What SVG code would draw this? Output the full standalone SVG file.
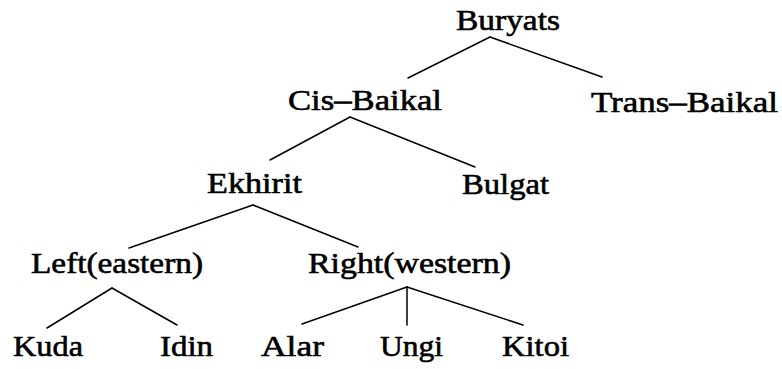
<svg xmlns="http://www.w3.org/2000/svg" width="782" height="369" viewBox="0 0 782 369">
<style>
text { font-family: "Liberation Serif", "Times New Roman", serif; font-size: 30px; fill: #000; stroke: #000; stroke-width: 0.6; }
.edge { stroke: #000; stroke-width: 1.5; fill: none; stroke-linecap: round; }
</style>
<rect width="782" height="369" fill="#fff"/>
<g id="connectors">
<line class="edge" x1="490" y1="37" x2="408" y2="78"/>
<line class="edge" x1="490" y1="37" x2="602" y2="77"/>
<line class="edge" x1="350" y1="117" x2="270" y2="160"/>
<line class="edge" x1="350" y1="117" x2="475" y2="167"/>
<line class="edge" x1="253" y1="205" x2="129" y2="248"/>
<line class="edge" x1="253" y1="205" x2="358" y2="247"/>
<line class="edge" x1="112" y1="288" x2="47" y2="328"/>
<line class="edge" x1="112" y1="288" x2="177" y2="325"/>
<line class="edge" x1="407" y1="287" x2="302" y2="324"/>
<line class="edge" x1="407" y1="287" x2="407" y2="325"/>
<line class="edge" x1="407" y1="287" x2="523" y2="325"/>
</g>
<g id="buryats"><text x="456" y="30" textLength="104" lengthAdjust="spacingAndGlyphs">Buryats</text></g>
<g id="cis-baikal"><text x="288" y="110" textLength="154" lengthAdjust="spacingAndGlyphs">Cis–Baikal</text></g>
<g id="trans-baikal"><text x="591" y="112" textLength="187" lengthAdjust="spacingAndGlyphs">Trans–Baikal</text></g>
<g id="ekhirit"><text x="207" y="193" textLength="95" lengthAdjust="spacingAndGlyphs">Ekhirit</text></g>
<g id="bulgat"><text x="462" y="194" textLength="87" lengthAdjust="spacingAndGlyphs">Bulgat</text></g>
<g id="left"><text x="31" y="273" textLength="172" lengthAdjust="spacingAndGlyphs">Left(eastern)</text></g>
<g id="right"><text x="308" y="273" textLength="203" lengthAdjust="spacingAndGlyphs">Right(western)</text></g>
<g id="kuda"><text x="13" y="356" textLength="70" lengthAdjust="spacingAndGlyphs">Kuda</text></g>
<g id="idin"><text x="160" y="356" textLength="53" lengthAdjust="spacingAndGlyphs">Idin</text></g>
<g id="alar"><text x="261" y="356" textLength="63" lengthAdjust="spacingAndGlyphs">Alar</text></g>
<g id="ungi"><text x="380" y="356" textLength="63" lengthAdjust="spacingAndGlyphs">Ungi</text></g>
<g id="kitoi"><text x="502" y="356" textLength="67" lengthAdjust="spacingAndGlyphs">Kitoi</text></g>
</svg>
